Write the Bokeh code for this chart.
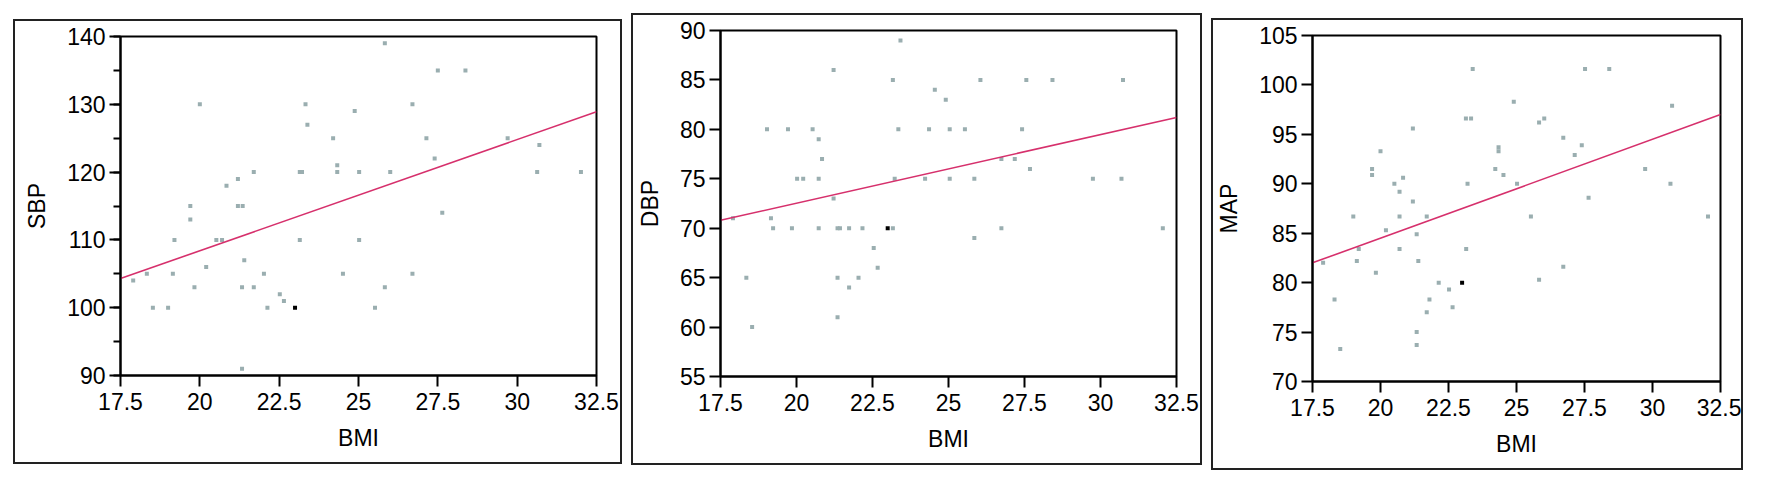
from bokeh.plotting import figure
from bokeh.layouts import row
from bokeh.models import Range1d, FixedTicker, SingleIntervalTicker
from bokeh.embed import file_html
from bokeh.resources import INLINE

# ---------------- data ----------------
x_ticks = [17.5, 20, 22.5, 25, 27.5, 30, 32.5]
x_tick_labels = ["17.5", "20", "22.5", "25", "27.5", "30", "32.5"]
fit_x = [17.5, 32.5]

sbp_bmi = [20.0, 23.33, 23.39, 21.7, 21.2, 20.84, 19.7, 21.2, 21.35, 19.7,
           19.2, 20.52, 20.7, 23.15, 23.22, 23.15, 21.4, 20.2, 17.9, 18.33,
           19.15, 22.02, 19.83, 21.33, 21.7, 22.52, 22.65, 18.52, 19.0, 22.13,
           21.33, 25.83, 27.5, 28.37, 26.7, 24.88, 24.2, 27.14, 29.7, 30.7,
           24.33, 27.4, 24.33, 25.02, 26.0, 30.63, 32.01, 27.64, 25.02, 24.51,
           26.7, 25.83, 25.52]
sbp_val = [130, 130, 127, 120, 119, 118, 115, 115, 115, 113,
           110, 110, 110, 120, 120, 110, 107, 106, 104, 105,
           105, 105, 103, 103, 103, 102, 101, 100, 100, 100,
           91, 139, 135, 135, 130, 129, 125, 125, 125, 124,
           121, 122, 120, 120, 120, 120, 120, 114, 110, 105,
           105, 103, 100]
sbp_fit = [104.3, 128.9]

dbp_bmi = [23.42, 21.22, 23.17, 24.55, 19.03, 19.72, 20.53, 23.35, 24.36, 20.73,
           20.84, 20.02, 20.22, 20.73, 23.23, 24.23, 21.22, 17.91, 19.16, 19.23,
           19.85, 20.73, 21.35, 21.43, 21.73, 22.17, 23.17, 22.54, 22.67, 18.35,
           21.35, 22.04, 21.73, 21.35, 18.54, 26.05, 27.56, 28.42, 30.74, 24.91,
           25.04, 25.54, 27.42, 26.74, 27.18, 27.68, 25.04, 25.85, 29.75, 30.69,
           25.85, 26.74, 32.05]
dbp_val = [89, 86, 85, 84, 80, 80, 80, 80, 80, 79,
           77, 75, 75, 75, 75, 75, 73, 71, 71, 70,
           70, 70, 70, 70, 70, 70, 70, 68, 66, 65,
           65, 65, 64, 61, 60, 85, 85, 85, 85, 83,
           80, 80, 80, 77, 77, 76, 75, 75, 75, 75,
           69, 70, 70]
dbp_fit = [70.8, 81.2]

map_bmi = [23.39, 23.14, 23.33, 21.19, 24.34, 24.34, 20.0, 19.69, 19.69, 24.22,
           24.52, 20.83, 20.51, 23.2, 20.7, 21.19, 19.0, 20.7, 21.7, 21.33,
           20.2, 19.2, 20.7, 23.15, 17.89, 19.13, 21.39, 19.83, 22.14, 22.52,
           18.31, 21.8, 22.65, 21.7, 21.33, 21.33, 18.52, 27.52, 28.41, 24.9,
           30.72, 25.83, 26.02, 26.72, 27.4, 27.14, 29.73, 25.02, 30.66, 27.65,
           25.53, 32.04, 26.72, 25.83]
map_val = [101.6, 96.6, 96.6, 95.6, 93.7, 93.3, 93.3, 91.5, 90.9, 91.5,
           90.9, 90.6, 90.0, 90.0, 89.2, 88.2, 86.7, 86.7, 86.7, 84.9,
           85.3, 83.4, 83.4, 83.4, 82.0, 82.2, 82.2, 81.0, 80.0, 79.3,
           78.3, 78.3, 77.5, 77.0, 75.0, 73.7, 73.3, 101.6, 101.6, 98.3,
           97.9, 96.2, 96.6, 94.65, 93.9, 92.9, 91.5, 90.0, 90.0, 88.6,
           86.7, 86.7, 81.6, 80.3]
map_fit = [82.0, 97.0]

hl_bmi = [23.0]
hl_sbp = [100]
hl_dbp = [70]
hl_map = [80]

FONT = "Liberation Sans"
PT_COLOR = "#9aaeb0"
LINE_COLOR = "#d6306c"


def make_panel(xs, ys, hx, hy, fit_y, ylab, yr, yint, yminor, w, h, borders, shift):
    bl, br, bt, bb = borders
    dx, dy = shift
    p = figure(width=w, height=h, output_backend="svg", toolbar_location=None,
               x_range=Range1d(17.5, 32.5), y_range=Range1d(*yr),
               min_border_left=bl, min_border_right=br,
               min_border_top=bt, min_border_bottom=bb,
               background_fill_color="white", border_fill_color="white",
               styles={"border": "2px solid #222",
                       "transform": f"translate({dx}px, {dy}px)"})
    p.grid.visible = False
    p.outline_line_color = "black"
    p.outline_line_width = 2
    p.outline_line_alpha = 1

    p.xaxis.ticker = FixedTicker(ticks=x_ticks)
    p.xaxis.major_label_overrides = {t: l for t, l in zip(x_ticks, x_tick_labels)}
    p.yaxis.ticker = SingleIntervalTicker(interval=yint, num_minor_ticks=yminor)

    for ax in (p.xaxis, p.yaxis):
        ax.axis_line_width = 2
        ax.axis_line_color = "black"
        ax.major_tick_line_width = 2
        ax.major_tick_line_color = "black"
        ax.minor_tick_line_width = 2
        ax.minor_tick_line_color = "black"
        ax.major_tick_in = 0
        ax.major_tick_out = 11
        ax.minor_tick_in = 0
        ax.minor_tick_out = 7
        ax.major_label_text_font = FONT
        ax.major_label_text_font_size = "23px"
        ax.major_label_text_color = "black"
        ax.axis_label_text_font = FONT
        ax.axis_label_text_font_size = "23px"
        ax.axis_label_text_font_style = "normal"
        ax.axis_label_text_color = "black"
    p.xaxis.minor_tick_line_color = None
    if yminor <= 1:
        p.yaxis.minor_tick_line_color = None
    p.xaxis.major_label_standoff = 6
    p.yaxis.major_label_standoff = 4
    p.xaxis.axis_label = "BMI"
    p.yaxis.axis_label = ylab
    p.xaxis.axis_label_standoff = 12
    p.yaxis.axis_label_standoff = 14

    p.scatter(xs, ys, marker="square", size=4, color=PT_COLOR, line_color=None)
    p.scatter(hx, hy, marker="square", size=4, color="black", line_color=None)
    p.line(fit_x, fit_y, line_color=LINE_COLOR, line_width=1.6)
    return p


p1 = make_panel(sbp_bmi, sbp_val, hl_bmi, hl_sbp, sbp_fit, "SBP", (90, 140), 10, 2,
                609, 445, (105, 28, 14, 90), (13, 19))
p2 = make_panel(dbp_bmi, dbp_val, hl_bmi, hl_dbp, dbp_fit, "DBP", (55, 90), 5, 0,
                571, 452, (87, 28, 15, 91), (22, 13))
p3 = make_panel(map_bmi, map_val, hl_bmi, hl_map, map_fit, "MAP", (70, 105), 5, 0,
                532, 452, (91, 25, 15, 91), (31, 18))

layout = row(p1, p2, p3, spacing=0)
open("out.html", "w").write(file_html(layout, INLINE))
